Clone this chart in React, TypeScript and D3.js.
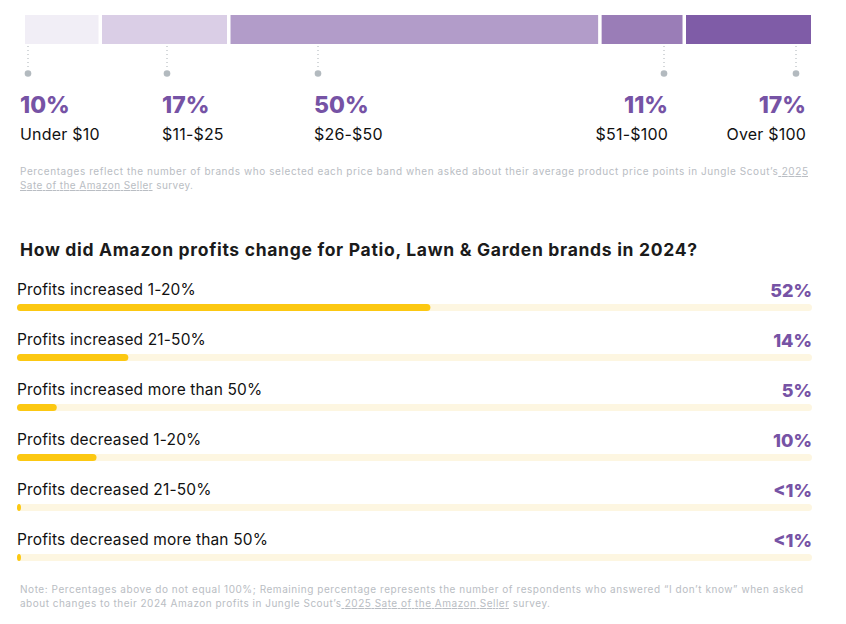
import React from "react";
import * as d3 from "d3";

const priceBands = ["Under $10", "$11-$25", "$26-$50", "$51-$100", "Over $100"];
const priceShares = [10, 17, 50, 11, 17];
const priceColors = ["#f1eef6", "#dacee6", "#b29cc9", "#9a7db7", "#7f5ca7"];
// layout: text anchor x and leader dot x for each band
const priceLabelX = [20, 162, 314, 668, 806];
const priceDotX = [28, 167, 318, 664, 796];
const priceLabelAlign = ["start", "start", "start", "end", "end"];

const profitCategories = [
  "Profits increased 1-20%",
  "Profits increased 21-50%",
  "Profits increased more than 50%",
  "Profits decreased 1-20%",
  "Profits decreased 21-50%",
  "Profits decreased more than 50%",
];
const profitValues = [52, 14, 5, 10, 0.5, 0.5];
const profitLabels = ["52%", "14%", "5%", "10%", "<1%", "<1%"];

const FONT = "Inter, 'Open Sans', sans-serif";
const PURPLE = "#7653a5";
const GREY = "#b9bdc3";

export default function App() {
  const W = 846, H = 624;
  const total = d3.sum(priceShares);
  const gap = 3.5;
  const n = priceShares.length;
  const left = 25, right = 811;
  const w1 = d3.scaleLinear().domain([0, total]).range([0, right - left - gap * (n - 1)]);
  const cum = d3.cumsum(priceShares);
  const starts = priceShares.map((v, i) => (i === 0 ? 0 : cum[i - 1]));

  const x2 = d3.scaleLinear().domain([0, 100]).range([17, 812]);
  const y2 = d3.scaleBand<number>().domain(d3.range(profitCategories.length)).range([263, 563]);

  return (
    <svg width={W} height={H} style={{ position: "absolute", left: 0, top: 0 }} fontFamily={FONT}>
      <rect width={W} height={H} fill="#fff" />
      {priceShares.map((v, i) => {
        const xa = left + w1(starts[i]) + i * gap;
        return <rect key={i} x={xa} y={15} width={w1(v)} height={29} fill={priceColors[i]} />;
      })}
      {priceShares.map((v, i) => {
        const dx = priceDotX[i];
        const tx = priceLabelX[i];
        const anchor = priceLabelAlign[i];
        return (
          <g key={i}>
            <line x1={dx} x2={dx} y1={46} y2={70} stroke="#aab1b6" strokeWidth={1} strokeDasharray="1 3" />
            <circle cx={dx} cy={73.5} r={3.3} fill="#b3babf" />
            <text x={tx} y={113} textAnchor={anchor} fontSize={23} fontWeight={800} fill={PURPLE}>
              {v}%
            </text>
            <text x={tx} y={140} textAnchor={anchor} fontSize={16} letterSpacing={0.2} fill="#111">
              {priceBands[i]}
            </text>
          </g>
        );
      })}
      <text x={20} y={175} fontSize={10} fill={GREY} textLength={788}>
        Percentages reflect the number of brands who selected each price band when asked about their average product price points in Jungle Scout’s
        <tspan textDecoration="underline"> 2025 </tspan>
      </text>
      <text x={20} y={189} fontSize={10} fill={GREY} textLength={173}>
        <tspan textDecoration="underline">Sate of the Amazon Seller</tspan> survey.
      </text>

      <text x={20} y={256} fontSize={17.5} fontWeight={700} fill="#1b1b1b" textLength={677}>
        How did Amazon profits change for Patio, Lawn &amp; Garden brands in 2024?
      </text>

      {profitCategories.map((c, i) => {
        const by = (y2(i) as number) + 41;
        return (
          <g key={c}>
            <text x={17} y={by - 9} fontSize={15.5} letterSpacing={0.15} fill="#111">
              {c}
            </text>
            <text x={812} y={by - 7} textAnchor="end" fontSize={18} fontWeight={800} fill={PURPLE}>
              {profitLabels[i]}
            </text>
            <rect x={x2(0)} y={by} width={x2(100) - x2(0)} height={7} rx={3.5} fill="#fdf6e1" />
            <rect x={x2(0)} y={by} width={Math.max(x2(profitValues[i]) - x2(0), 3.5)} height={7} rx={3.5} fill="#fcc812" />
          </g>
        );
      })}

      <text x={20} y={593} fontSize={10} fill={GREY} letterSpacing={0.55}>
        Note: Percentages above do not equal 100%; Remaining percentage represents the number of respondents who answered “I don’t know” when asked
      </text>
      <text x={20} y={607} fontSize={10} fill={GREY} textLength={530}>
        about changes to their 2024 Amazon profits in Jungle Scout’s
        <tspan textDecoration="underline"> 2025 Sate of the Amazon Seller</tspan> survey.
      </text>
    </svg>
  );
}
